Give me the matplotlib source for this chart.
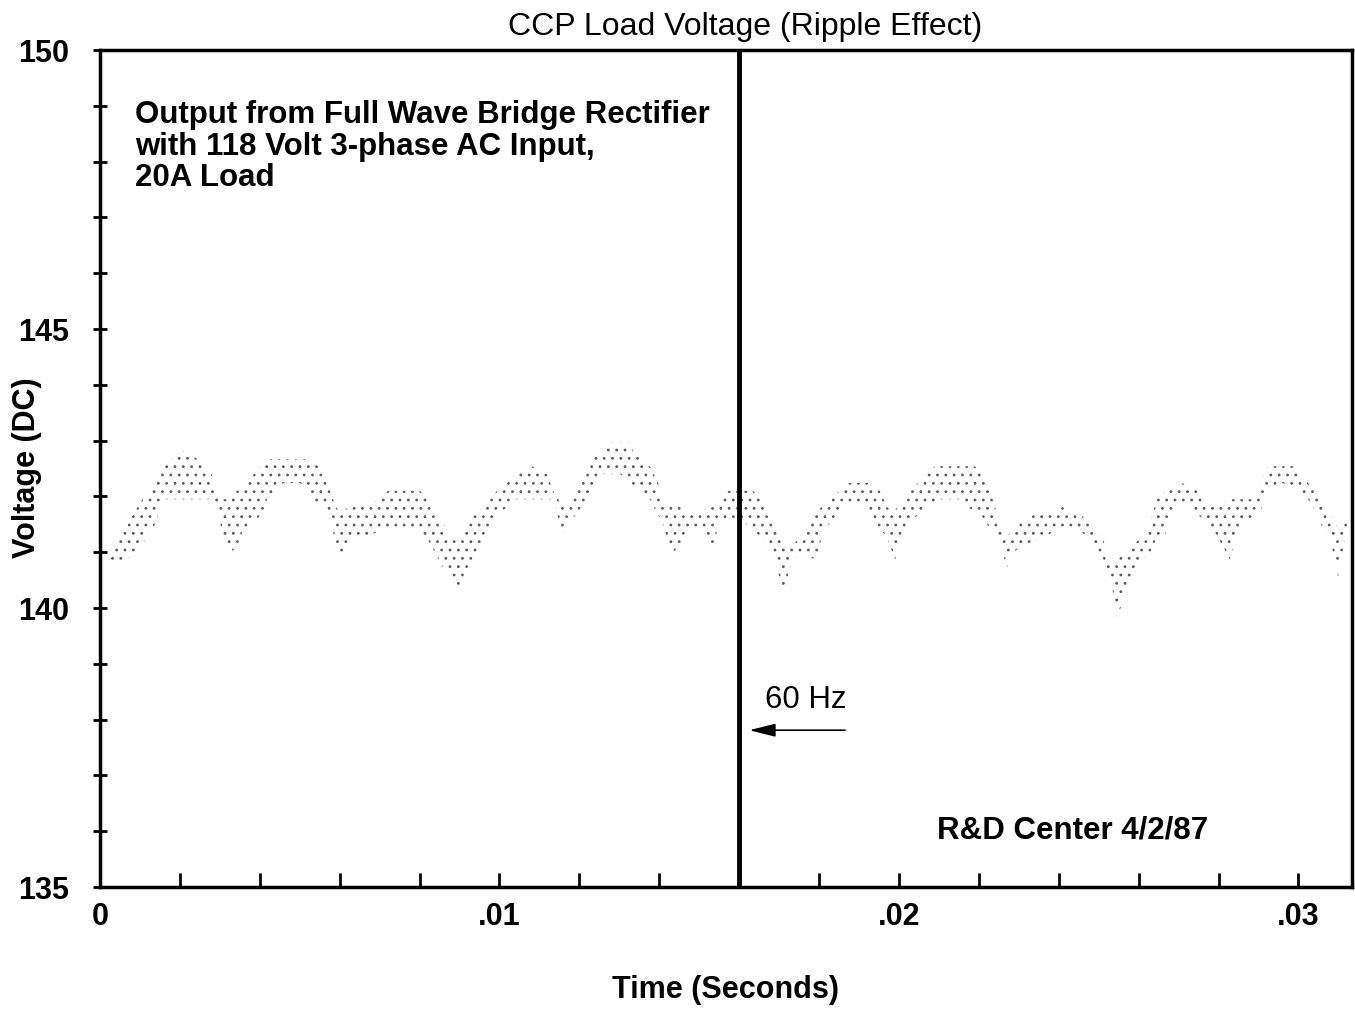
import numpy as np
import matplotlib
matplotlib.use('Agg')
import matplotlib.pyplot as plt
from matplotlib.ticker import MultipleLocator, FixedLocator

plt.rcParams['font.family'] = ['Liberation Sans', 'DejaVu Sans']
plt.rcParams['hatch.linewidth'] = 0.8

# edges of the dotted ripple band (time in ms, voltage in V)
upper_ms = [0.25, 0.63, 0.83, 1.08, 1.25, 1.45, 1.63, 1.80, 2.00, 2.20, 2.43, 2.63, 2.80, 2.85, 3.00, 3.20,
            3.43, 3.63, 3.83, 4.01, 4.26, 5.26, 5.46, 5.58, 5.76, 5.83, 6.01, 6.21, 6.58, 7.01, 7.21,
            7.51, 8.01, 8.34, 8.59, 8.76, 9.01, 9.19, 9.44, 9.76, 9.94, 10.19, 10.39, 10.81, 11.19, 11.34,
            11.59, 11.76, 11.96, 12.19, 12.34, 12.57, 12.77, 13.27, 13.34, 13.52, 13.77, 13.97, 14.09, 14.19,
            14.52, 14.84, 15.34, 15.52, 15.72, 15.94,
            16.10, 16.35, 16.52, 16.70, 16.95, 17.10, 17.35, 17.52, 17.72, 17.90, 18.27, 18.52, 18.72, 19.32,
            19.52, 19.70, 19.85, 20.10, 20.28, 20.48, 20.70, 20.90, 21.90, 22.10, 22.28, 22.45, 22.70, 22.85,
            23.08, 23.45, 23.90,
            24.08, 24.53, 24.71, 24.86, 25.08, 25.16, 25.28, 25.46, 25.86, 26.08, 26.28, 26.46, 26.66, 27.08,
            27.46, 27.66, 27.86, 28.29, 28.86, 29.04, 29.24, 29.86, 30.04, 30.24, 30.46, 30.61, 30.79, 30.99, 31.21]
upper_v = [141.09, 141.40, 141.68, 141.97, 142.10, 142.40, 142.54, 142.67, 142.81, 142.81, 142.67, 142.54, 142.40, 142.10, 141.95, 141.95,
           142.10, 142.24, 142.38, 142.54, 142.67, 142.67, 142.54, 142.40, 142.10, 141.95, 141.67, 141.81, 141.81, 141.95, 142.10,
           142.10, 142.10, 141.81, 141.54, 141.25, 141.25, 141.54, 141.70, 141.95, 142.10, 142.24, 142.40, 142.54, 142.40, 142.10,
           141.81, 141.95, 142.24, 142.40, 142.67, 142.81, 142.96, 142.96, 142.81, 142.67, 142.53, 142.24, 141.95, 141.81,
           141.81, 141.70, 141.81, 141.95, 142.10, 142.10,
           142.10, 142.10, 141.95, 141.70, 141.42, 141.13, 141.13, 141.27, 141.42, 141.70, 141.95, 142.10, 142.24, 142.24,
           142.10, 141.81, 141.70, 141.95, 142.10, 142.24, 142.40, 142.54, 142.54, 142.40, 142.10, 141.70, 141.27, 141.42,
           141.54, 141.70, 141.70,
           141.81, 141.70, 141.54, 141.42, 141.27, 141.13, 140.86, 140.86, 141.13, 141.27, 141.54, 141.95, 142.10, 142.24,
           142.10, 141.95, 141.81, 141.95, 141.95, 142.24, 142.54, 142.54, 142.40, 142.24, 142.10, 141.81, 141.70, 141.42, 141.54]

lower_ms = [0.25, 0.58, 0.83, 1.05, 1.25, 1.43, 1.45, 1.58, 2.83, 2.95, 3.05, 3.15, 3.20, 3.43, 3.50, 3.58,
            3.83, 4.08, 4.18, 4.43, 4.58, 5.01, 5.18, 5.33, 5.58, 5.76, 5.88, 6.01, 6.13, 6.33, 6.68, 7.01, 7.26,
            7.51, 8.01, 8.19, 8.39, 8.59, 8.76, 8.84, 8.96, 9.09, 9.26, 9.44, 9.59, 9.76, 9.94, 10.19, 10.34,
            11.34, 11.44, 11.59, 11.76, 11.94, 12.19, 12.34, 12.52, 13.02, 13.52, 13.77, 13.94, 14.09, 14.19,
            14.34, 14.52, 14.77, 15.02, 15.34, 15.52, 15.77,
            16.10, 16.35, 16.52, 16.72, 16.90, 17.10, 17.32, 17.52, 17.95, 18.10, 18.32, 18.52, 19.20, 19.27,
            19.52, 19.70, 19.90, 20.10, 20.28, 20.53, 20.70, 21.03, 21.53, 21.70, 22.03, 22.28, 22.48, 22.65,
            22.70, 22.85, 23.10, 23.70, 23.90,
            24.08, 24.48, 24.71, 24.86, 25.08, 25.28, 25.48, 25.71, 25.86, 26.08, 26.28, 26.46, 26.66, 26.78,
            26.96, 27.28, 27.46, 27.66, 27.86, 28.09, 28.29, 28.46, 28.61, 29.04, 29.21, 29.61, 30.04, 30.24,
            30.46, 30.61, 30.79, 30.99, 31.21]
lower_v = [140.82, 140.82, 140.99, 141.09, 141.40, 141.54, 141.81, 141.95, 141.95, 141.70, 141.40, 141.13, 140.97, 141.09, 141.25, 141.40,
           141.54, 141.70, 141.95, 142.10, 142.24, 142.24, 142.10, 141.95, 141.81, 141.54, 141.25, 140.82, 141.09, 141.25, 141.25, 141.40, 141.40,
           141.40, 141.40, 141.25, 140.99, 140.72, 140.56, 140.41, 140.27, 140.56, 140.82, 140.99, 141.13, 141.40, 141.67, 141.81, 141.95,
           141.95, 141.70, 141.25, 141.54, 141.70, 141.95, 142.10, 142.40, 142.40, 142.10, 141.95, 141.70, 141.54, 141.25,
           140.99, 141.13, 141.40, 141.40, 141.13, 141.54, 141.54,
           141.54, 141.42, 141.27, 141.13, 140.86, 140.27, 140.86, 140.99, 140.86, 141.42, 141.54, 141.81, 141.81, 141.70,
           141.42, 141.27, 140.86, 141.42, 141.54, 141.70, 141.81, 141.95, 141.95, 141.81, 141.70, 141.42, 141.27, 140.86,
           140.72, 140.99, 141.13, 141.27, 141.42,
           141.42, 141.42, 141.27, 141.13, 140.95, 140.56, 139.84, 140.41, 140.68, 140.86, 140.99, 141.27, 141.27, 141.67,
           141.81, 141.81, 141.70, 141.54, 141.42, 141.13, 140.86, 141.42, 141.54, 141.70, 142.10, 142.24, 142.10, 141.95,
           141.70, 141.42, 141.27, 140.56, 141.42]

x_ticks = [0, 0.01, 0.02, 0.03]
x_tick_labels = ['0', '.01', '.02', '.03']
y_ticks = [135, 140, 145, 150]
marker_t = 0.016

fig = plt.figure(figsize=(13.55, 10.09), dpi=100)
ax = fig.add_axes([0.0738, 0.1209, 0.9240, 0.8295])

band_t = np.concatenate([upper_ms, lower_ms[::-1]]) / 1000.0
band_v = np.concatenate([upper_v, lower_v[::-1]])
ax.fill(band_t, band_v, facecolor='none', edgecolor='#5a5a5a', hatch='..', linewidth=0)

ax.axvline(marker_t, color='black', linewidth=3.5)

ax.set_xlim(0, 0.03134)
ax.set_ylim(135, 150)

ax.xaxis.set_major_locator(FixedLocator(x_ticks))
ax.set_xticklabels(x_tick_labels)
ax.xaxis.set_minor_locator(MultipleLocator(0.002))
ax.yaxis.set_major_locator(FixedLocator(y_ticks))
ax.yaxis.set_minor_locator(MultipleLocator(1))

ax.tick_params(axis='x', which='both', direction='in', length=10, width=2, pad=11,
               labelsize=22, top=False)
ax.tick_params(axis='y', which='both', direction='inout', length=10, width=2, pad=17,
               labelsize=22, right=False)
for lab in ax.get_xticklabels() + ax.get_yticklabels():
    lab.set_fontweight('bold')

for s in ax.spines.values():
    s.set_linewidth(2.5)

fig.text(726 / 1355, 1 - 990 / 1009, 'Time (Seconds)', fontsize=22, fontweight='bold', ha='center', va='center')
fig.text(27 / 1355, 1 - 468 / 1009, 'Voltage (DC)', fontsize=22, fontweight='bold', ha='center', va='center',
         rotation=90)
fig.text(745 / 1355, 1 - 27 / 1009, 'CCP Load Voltage (Ripple Effect)', fontsize=23, ha='center', va='center')

ax.text(0.00088, 149.1, 'Output from Full Wave Bridge Rectifier\nwith 118 Volt 3-phase AC Input,\n20A Load',
        fontsize=22.5, fontweight='bold', ha='left', va='top', linespacing=1.07)
ax.text(0.02095, 136.02, 'R&D Center 4/2/87', fontsize=22.5, fontweight='bold', ha='left', va='center')
ax.text(0.01665, 138.35, '60 Hz', fontsize=22.5, ha='left', va='center')
ax.annotate('', xy=(0.01625, 137.81), xytext=(0.01865, 137.81),
            arrowprops=dict(arrowstyle='-|>,head_length=0.8,head_width=0.2', color='black',
                            lw=1.2, mutation_scale=20, shrinkA=0, shrinkB=0))

fig.savefig('out.png', dpi=100)
